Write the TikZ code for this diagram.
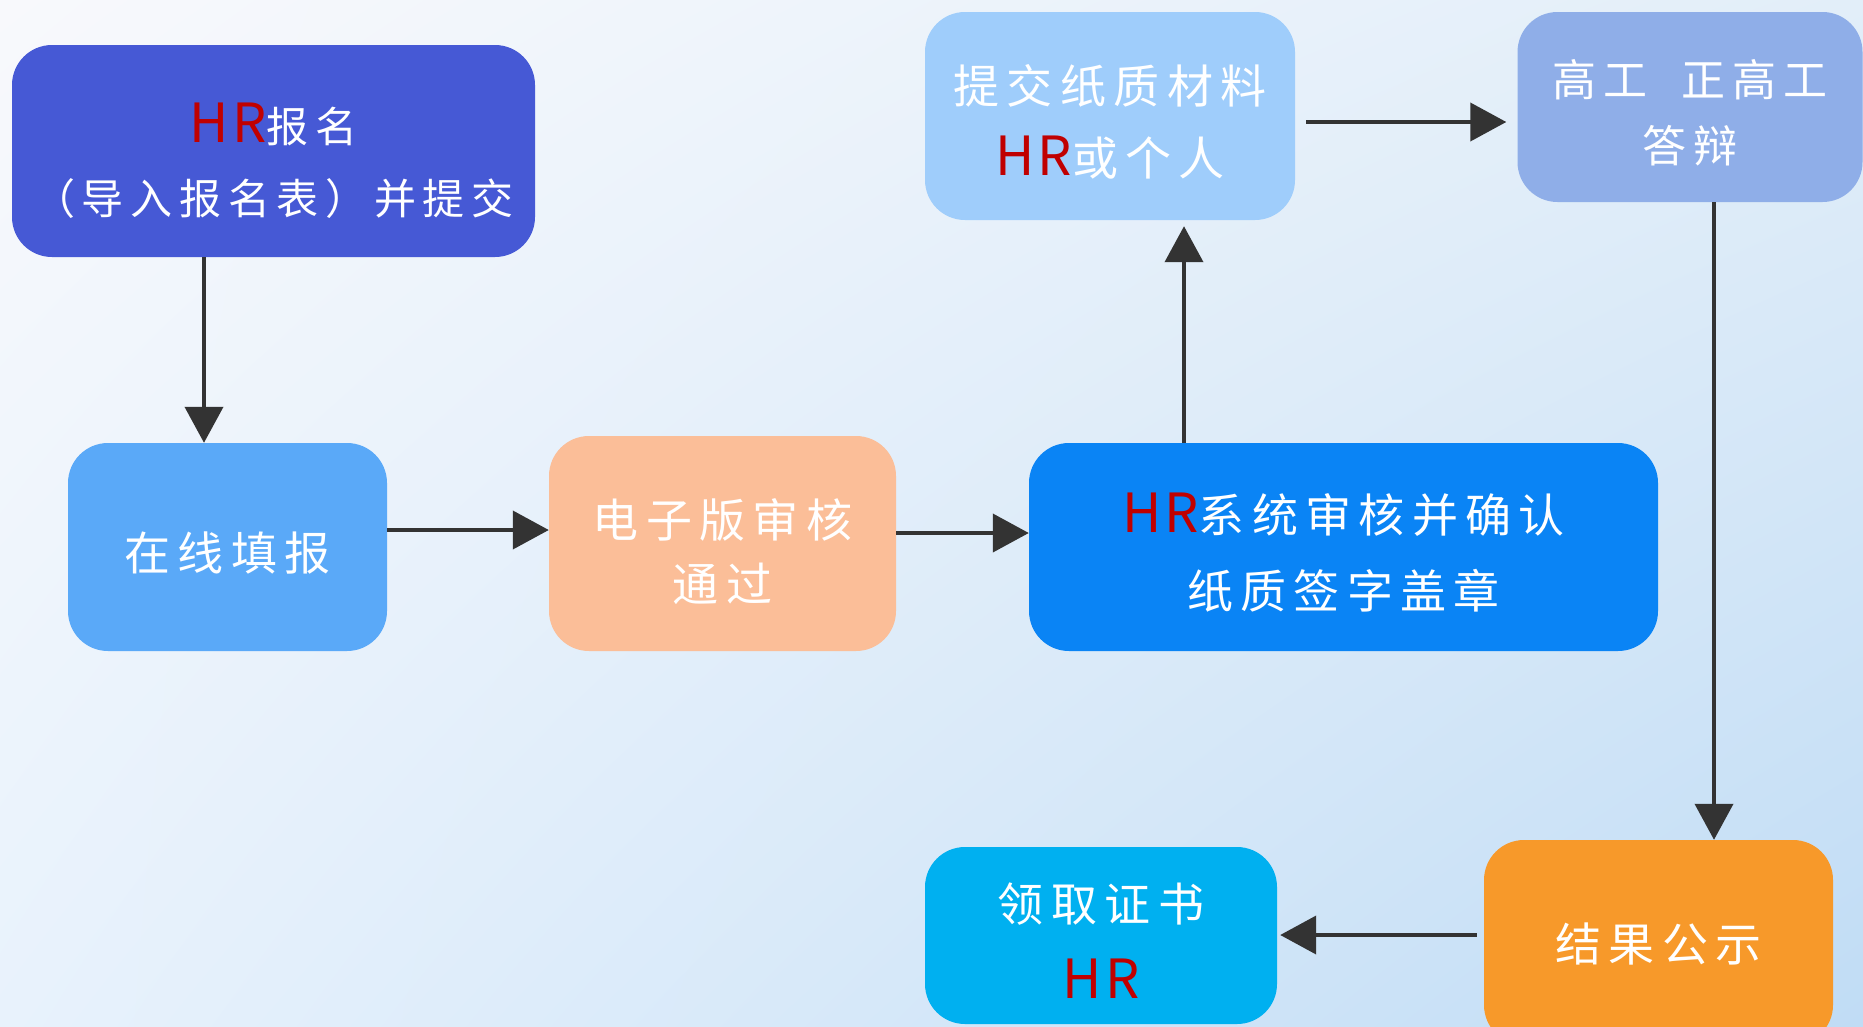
\documentclass[tikz,border=0pt]{standalone}
\usepackage{fontspec}
\setmainfont{Noto Sans CJK SC}[LetterSpace=16]
\usetikzlibrary{arrows.meta,shadings}
\definecolor{bgUL}{HTML}{F8F9FC}
\definecolor{bgUR}{HTML}{E2EEF9}
\definecolor{bgLL}{HTML}{E8F2FC}
\definecolor{bgLR}{HTML}{C0DCF5}
\definecolor{cA}{HTML}{4659D5}
\definecolor{cB}{HTML}{5AA9F8}
\definecolor{cC}{HTML}{FBBE98}
\definecolor{cD}{HTML}{0A84F5}
\definecolor{cE}{HTML}{9FCDFB}
\definecolor{cF}{HTML}{8FAEE8}
\definecolor{cG}{HTML}{F7992A}
\definecolor{cH}{HTML}{00B0F0}
\definecolor{hrred}{HTML}{C00000}
\definecolor{arrc}{HTML}{333333}
\tikzset{
  box/.style={rectangle, rounded corners=40pt, inner sep=0pt},
  txt/.style={text=white, align=center, inner sep=0pt, font=\fontsize{46}{72}\selectfont},
  arr/.style={draw=arrc, line width=4pt, -{Triangle[length=36pt,width=38pt]}, arrc}
}
\newcommand{\hr}{{\fontsize{54}{54}\selectfont\addfontfeature{LetterSpace=6}\color{hrred}HR}}
\begin{document}
\begin{tikzpicture}[x=1pt,y=-1pt]
\useasboundingbox (0,0) rectangle (1863,1026);
\shade[upper left=bgUL, upper right=bgUR, lower left=bgLL, lower right=bgLR] (0,0) rectangle (1863,1026);

\node[box, fill=cA, minimum width=523pt, minimum height=212pt,
  label={[txt, yshift=-10pt, font=\fontsize{42}{72}\selectfont]center:{\hr 报名\\（导入报名表）并提交}}] (b1) at (273.5,151) {};
\node[box, fill=cB, minimum width=319pt, minimum height=208pt,
  label={[txt, yshift=-6pt]center:{在线填报}}] (b2) at (227.5,547) {};
\node[box, fill=cC, minimum width=347pt, minimum height=215pt,
  label={[txt, yshift=-8pt, font=\fontsize{46}{64}\selectfont]center:{电子版审核\\通过}}] (b3) at (722.5,543.5) {};
\node[box, fill=cD, minimum width=629pt, minimum height=208pt,
  label={[txt, yshift=-6pt, font=\fontsize{46}{76}\selectfont]center:{\hr 系统审核并确认\\纸质签字盖章}}] (b4) at (1343.5,547) {};
\node[box, fill=cE, minimum width=370pt, minimum height=208pt,
  label={[txt, yshift=-6pt]center:{提交纸质材料\\\hr 或个人}}] (b5) at (1110,116) {};
\node[box, fill=cF, minimum width=345pt, minimum height=190pt,
  label={[txt, yshift=-6pt, font=\fontsize{44}{66}\selectfont]center:{高工\ \ 正高工\\答辩}}] (b6) at (1690,107) {};
\node[box, fill=cG, minimum width=349pt, minimum height=205pt,
  label={[txt, yshift=-1pt]center:{结果公示}}] (b7) at (1658.5,942.5) {};
\node[box, fill=cH, minimum width=352pt, minimum height=177pt,
  label={[txt, yshift=-5pt, font=\fontsize{46}{77}\selectfont]center:{领取证书\\\hr}}] (b8) at (1101,935.5) {};

\coordinate (x12) at (204,0);
\coordinate (y23) at (0,530);
\coordinate (y34) at (0,533);
\coordinate (x45) at (1184,0);
\coordinate (y56) at (0,122);
\coordinate (x67) at (1714,0);
\coordinate (y78) at (0,935);

\draw[arr] (b1.south -| x12) -- (b2.north -| x12);
\draw[arr] (b2.east |- y23) -- (b3.west |- y23);
\draw[arr] (b3.east |- y34) -- (b4.west |- y34);
\draw[arr, shorten >=6pt] (b4.north -| x45) -- (b5.south -| x45);
\draw[arr, shorten <=11pt, shorten >=11pt] (b5.east |- y56) -- (b6.west |- y56);
\draw[arr] (b6.south -| x67) -- (b7.north -| x67);
\draw[arr, shorten <=7pt, shorten >=3pt] (b7.west |- y78) -- (b8.east |- y78);
\end{tikzpicture}
\end{document}
